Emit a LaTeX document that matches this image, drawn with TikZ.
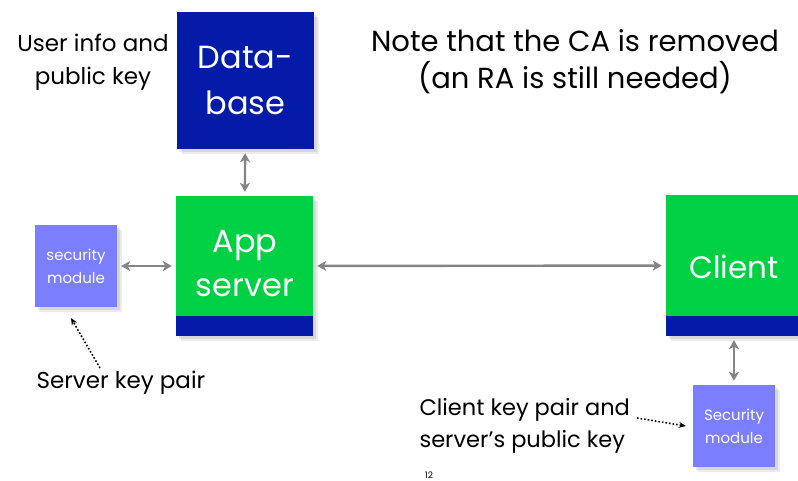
\documentclass[tikz,border=0pt]{standalone}
\usepackage{fontspec}
\setmainfont{Poppins}
\usepackage{tikz}
\usetikzlibrary{arrows.meta,shadows}
\definecolor{dbblue}{RGB}{3,27,168}
\definecolor{appgreen}{RGB}{0,208,68}
\definecolor{secblue}{RGB}{122,126,255}
\definecolor{linkgray}{RGB}{132,132,132}

\tikzset{
    box/.style={draw=none,text=white,align=center,inner sep=0pt,
        drop shadow={opacity=0.15,shadow xshift=5pt,shadow yshift=-5pt},
        drop shadow={opacity=0.2,shadow xshift=2.5pt,shadow yshift=-2.5pt}},
    banded/.style={path picture={\fill[dbblue]
        ([yshift=20pt]path picture bounding box.south west) rectangle
        (path picture bounding box.south east);}},
    link/.style={{Stealth[length=9pt,width=10pt,inset=2.5pt]}-{Stealth[length=9pt,width=10pt,inset=2.5pt]},
        linkgray,line width=2.4pt,shorten >=4pt,shorten <=4pt},
}

\begin{document}
\begin{tikzpicture}[x=1pt,y=-1pt]
    \useasboundingbox (0,0) rectangle (798,480);
    \clip (0,0) rectangle (798,480);
    \node[box,fill=dbblue,minimum width=137pt,minimum height=137pt,font=\fontsize{32}{46}\selectfont]
        at(245.5,80.5)(db){Data-\\base};
    \node[box,banded,fill=appgreen,minimum width=137pt,minimum height=140pt]
        at(244.5,266)(app){};
    \node[text=white,align=center,font=\fontsize{32}{44}\selectfont] at(245,264)(applbl){App\\server};
    \node[box,banded,fill=appgreen,minimum width=136pt,minimum height=141pt]
        at(734,265.5)(client){};
    \node[text=white,font=\fontsize{31}{36}\selectfont] at(734,267)(clientlbl){Client};
    \node[box,fill=secblue,minimum width=82pt,minimum height=82pt,font=\fontsize{15}{23}\selectfont]
        at(76,266)(secl){security\\module};
    \node[box,fill=secblue,minimum width=82pt,minimum height=82pt,font=\fontsize{15}{23}\selectfont]
        at(734,426)(secr){Security\\module};
    \draw[link] (db) -- (app);
    \draw[link] (secl) -- (app);
    \draw[link] (app) -- (client);
    \draw[link] (client) -- (secr);
    % labels
    \node[align=center,font=\fontsize{23}{33}\selectfont] at(93,62)(userinfo){User info and\\public key};
    \node[align=center,font=\fontsize{29}{37}\selectfont] at(575,62)(note){Note that the CA is removed\\(an RA is still needed)};
    \node[anchor=west,font=\fontsize{23}{26}\selectfont] at(33,383)(srvkey){Server key pair};
    \node[anchor=west,align=left,font=\fontsize{22.5}{32}\selectfont] at(416,426)(clikey){Client key pair and\\server’s public key};
    \node[font=\fontsize{9}{10}\selectfont] at(429,475)(pagenum){12};
    \coordinate (srvtail) at(100,368);
    \coordinate (srvtip) at(71,318);
    \coordinate (clitail) at(637,418);
    \draw[-{Stealth[length=7pt,width=6pt]},dotted,line width=1.6pt] (srvtail) -- (srvtip);
    \draw[-{Stealth[length=7pt,width=6pt]},dotted,line width=1.6pt] (clitail) -- ([xshift=-7pt]secr.west);
\end{tikzpicture}
\end{document}
